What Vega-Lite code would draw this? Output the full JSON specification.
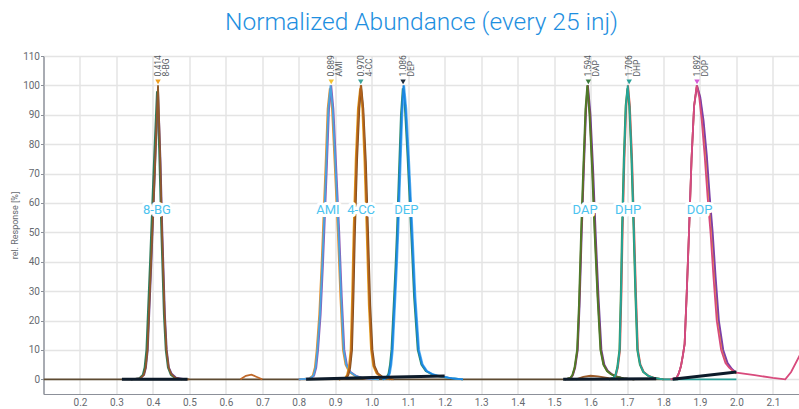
{
  "$schema": "https://vega.github.io/schema/vega-lite/v6.json",
  "autosize": {"type": "none"},
  "padding": {"left": 43.5, "top": 56, "right": 0, "bottom": 15},
  "width": 756,
  "height": 338,
  "title": {"text": "Normalized Abundance (every 25 inj)", "fontSize": 24.5, "font": "Roboto", "fontWeight": 300, "color": "#1e8fe0", "offset": 16, "anchor": "middle"},
  "config": {
    "view": {"stroke": "#8c9099", "strokeWidth": 1},
    "font": "Roboto",
    "axis": {"labelFont": "Roboto", "titleFont": "Roboto", "labelFontSize": 10, "labelColor": "#666a70", "titleColor": "#666a70", "titleFontSize": 9, "titleFontWeight": "normal", "gridColor": "#e4e4e4", "gridWidth": 1.5, "domainColor": "#8c9099", "tickColor": "#8c9099", "ticks": false}
  },
  "datasets": {
    "tr": [
      {"s": "z0", "t": 0.1, "r": 0}, {"s": "z0", "t": 1.84, "r": 0},
      {"s": "z1", "t": 0.64, "r": 0}, {"s": "z1", "t": 0.655, "r": 1.2}, {"s": "z1", "t": 0.67, "r": 1.6}, {"s": "z1", "t": 0.685, "r": 0.8}, {"s": "z1", "t": 0.7, "r": 0},

      {"s": "bg_a", "t": 0.34, "r": 0}, {"s": "bg_a", "t": 0.362, "r": 0.3}, {"s": "bg_a", "t": 0.372, "r": 1.5}, {"s": "bg_a", "t": 0.377, "r": 4}, {"s": "bg_a", "t": 0.382, "r": 10}, {"s": "bg_a", "t": 0.392, "r": 40}, {"s": "bg_a", "t": 0.402, "r": 72}, {"s": "bg_a", "t": 0.411, "r": 98}, {"s": "bg_a", "t": 0.417, "r": 78}, {"s": "bg_a", "t": 0.423, "r": 50}, {"s": "bg_a", "t": 0.43, "r": 22}, {"s": "bg_a", "t": 0.435, "r": 10}, {"s": "bg_a", "t": 0.441, "r": 4}, {"s": "bg_a", "t": 0.449, "r": 1.5}, {"s": "bg_a", "t": 0.46, "r": 0.5}, {"s": "bg_a", "t": 0.48, "r": 0},
      {"s": "bg_b", "t": 0.34, "r": 0}, {"s": "bg_b", "t": 0.366, "r": 0.3}, {"s": "bg_b", "t": 0.376, "r": 1.5}, {"s": "bg_b", "t": 0.381, "r": 4}, {"s": "bg_b", "t": 0.386, "r": 10}, {"s": "bg_b", "t": 0.396, "r": 40}, {"s": "bg_b", "t": 0.406, "r": 72}, {"s": "bg_b", "t": 0.414, "r": 99}, {"s": "bg_b", "t": 0.421, "r": 74}, {"s": "bg_b", "t": 0.426, "r": 50}, {"s": "bg_b", "t": 0.433, "r": 22}, {"s": "bg_b", "t": 0.438, "r": 10}, {"s": "bg_b", "t": 0.444, "r": 4}, {"s": "bg_b", "t": 0.452, "r": 1.8}, {"s": "bg_b", "t": 0.463, "r": 0.6}, {"s": "bg_b", "t": 0.49, "r": 0},
      {"s": "bg_c", "t": 0.34, "r": 0}, {"s": "bg_c", "t": 0.365, "r": 0.3}, {"s": "bg_c", "t": 0.375, "r": 1.5}, {"s": "bg_c", "t": 0.38, "r": 4}, {"s": "bg_c", "t": 0.385, "r": 10}, {"s": "bg_c", "t": 0.395, "r": 40}, {"s": "bg_c", "t": 0.405, "r": 70}, {"s": "bg_c", "t": 0.414, "r": 100}, {"s": "bg_c", "t": 0.42, "r": 75}, {"s": "bg_c", "t": 0.425, "r": 50}, {"s": "bg_c", "t": 0.432, "r": 22}, {"s": "bg_c", "t": 0.437, "r": 10}, {"s": "bg_c", "t": 0.443, "r": 4}, {"s": "bg_c", "t": 0.45, "r": 1.8}, {"s": "bg_c", "t": 0.46, "r": 0.6}, {"s": "bg_c", "t": 0.475, "r": 0.1}, {"s": "bg_c", "t": 0.5, "r": 0},

      {"s": "am_a", "t": 0.8, "r": 0}, {"s": "am_a", "t": 0.828, "r": 0.3}, {"s": "am_a", "t": 0.838, "r": 1.2}, {"s": "am_a", "t": 0.844, "r": 4}, {"s": "am_a", "t": 0.849, "r": 10}, {"s": "am_a", "t": 0.856, "r": 22}, {"s": "am_a", "t": 0.862, "r": 38}, {"s": "am_a", "t": 0.866, "r": 50}, {"s": "am_a", "t": 0.873, "r": 72}, {"s": "am_a", "t": 0.879, "r": 92}, {"s": "am_a", "t": 0.885, "r": 99}, {"s": "am_a", "t": 0.891, "r": 92}, {"s": "am_a", "t": 0.898, "r": 74}, {"s": "am_a", "t": 0.907, "r": 50}, {"s": "am_a", "t": 0.914, "r": 28}, {"s": "am_a", "t": 0.921, "r": 10}, {"s": "am_a", "t": 0.928, "r": 5}, {"s": "am_a", "t": 0.938, "r": 2.5}, {"s": "am_a", "t": 0.953, "r": 1.2}, {"s": "am_a", "t": 0.97, "r": 0.5}, {"s": "am_a", "t": 1.0, "r": 0},
      {"s": "am_b", "t": 0.8, "r": 0}, {"s": "am_b", "t": 0.832, "r": 0.3}, {"s": "am_b", "t": 0.842, "r": 1.2}, {"s": "am_b", "t": 0.848, "r": 4}, {"s": "am_b", "t": 0.853, "r": 10}, {"s": "am_b", "t": 0.86, "r": 22}, {"s": "am_b", "t": 0.866, "r": 38}, {"s": "am_b", "t": 0.87, "r": 50}, {"s": "am_b", "t": 0.877, "r": 72}, {"s": "am_b", "t": 0.883, "r": 92}, {"s": "am_b", "t": 0.889, "r": 100}, {"s": "am_b", "t": 0.895, "r": 92}, {"s": "am_b", "t": 0.902, "r": 74}, {"s": "am_b", "t": 0.911, "r": 50}, {"s": "am_b", "t": 0.918, "r": 28}, {"s": "am_b", "t": 0.925, "r": 10}, {"s": "am_b", "t": 0.932, "r": 5}, {"s": "am_b", "t": 0.942, "r": 2.5}, {"s": "am_b", "t": 0.957, "r": 1.2}, {"s": "am_b", "t": 0.975, "r": 0.5}, {"s": "am_b", "t": 1.0, "r": 0},
      {"s": "am_c", "t": 0.8, "r": 0}, {"s": "am_c", "t": 0.83, "r": 0.3}, {"s": "am_c", "t": 0.84, "r": 1.2}, {"s": "am_c", "t": 0.846, "r": 4}, {"s": "am_c", "t": 0.851, "r": 10}, {"s": "am_c", "t": 0.858, "r": 22}, {"s": "am_c", "t": 0.864, "r": 38}, {"s": "am_c", "t": 0.868, "r": 50}, {"s": "am_c", "t": 0.875, "r": 72}, {"s": "am_c", "t": 0.881, "r": 92}, {"s": "am_c", "t": 0.887, "r": 100}, {"s": "am_c", "t": 0.893, "r": 92}, {"s": "am_c", "t": 0.9, "r": 74}, {"s": "am_c", "t": 0.909, "r": 50}, {"s": "am_c", "t": 0.916, "r": 28}, {"s": "am_c", "t": 0.923, "r": 10}, {"s": "am_c", "t": 0.93, "r": 5}, {"s": "am_c", "t": 0.94, "r": 2.5}, {"s": "am_c", "t": 0.955, "r": 1.2}, {"s": "am_c", "t": 0.97, "r": 0.6}, {"s": "am_c", "t": 0.99, "r": 0.2}, {"s": "am_c", "t": 1.02, "r": 0},

      {"s": "cc_a", "t": 0.91, "r": 0}, {"s": "cc_a", "t": 0.926, "r": 0.3}, {"s": "cc_a", "t": 0.932, "r": 1.5}, {"s": "cc_a", "t": 0.937, "r": 4}, {"s": "cc_a", "t": 0.942, "r": 10}, {"s": "cc_a", "t": 0.946, "r": 28}, {"s": "cc_a", "t": 0.95, "r": 50}, {"s": "cc_a", "t": 0.956, "r": 75}, {"s": "cc_a", "t": 0.962, "r": 92}, {"s": "cc_a", "t": 0.968, "r": 99}, {"s": "cc_a", "t": 0.974, "r": 92}, {"s": "cc_a", "t": 0.98, "r": 74}, {"s": "cc_a", "t": 0.986, "r": 50}, {"s": "cc_a", "t": 0.992, "r": 25}, {"s": "cc_a", "t": 0.998, "r": 10}, {"s": "cc_a", "t": 1.004, "r": 4.5}, {"s": "cc_a", "t": 1.013, "r": 2}, {"s": "cc_a", "t": 1.026, "r": 0.8}, {"s": "cc_a", "t": 1.05, "r": 0},
      {"s": "cc_b", "t": 0.91, "r": 0}, {"s": "cc_b", "t": 0.93, "r": 0.3}, {"s": "cc_b", "t": 0.936, "r": 1.5}, {"s": "cc_b", "t": 0.941, "r": 4}, {"s": "cc_b", "t": 0.946, "r": 10}, {"s": "cc_b", "t": 0.95, "r": 28}, {"s": "cc_b", "t": 0.954, "r": 50}, {"s": "cc_b", "t": 0.96, "r": 75}, {"s": "cc_b", "t": 0.966, "r": 92}, {"s": "cc_b", "t": 0.971, "r": 100}, {"s": "cc_b", "t": 0.977, "r": 92}, {"s": "cc_b", "t": 0.984, "r": 74}, {"s": "cc_b", "t": 0.99, "r": 50}, {"s": "cc_b", "t": 0.996, "r": 25}, {"s": "cc_b", "t": 1.002, "r": 10}, {"s": "cc_b", "t": 1.008, "r": 4.5}, {"s": "cc_b", "t": 1.017, "r": 2}, {"s": "cc_b", "t": 1.03, "r": 0.8}, {"s": "cc_b", "t": 1.055, "r": 0},
      {"s": "cc_c", "t": 0.91, "r": 0}, {"s": "cc_c", "t": 0.928, "r": 0.3}, {"s": "cc_c", "t": 0.934, "r": 1.5}, {"s": "cc_c", "t": 0.939, "r": 4}, {"s": "cc_c", "t": 0.944, "r": 10}, {"s": "cc_c", "t": 0.948, "r": 28}, {"s": "cc_c", "t": 0.952, "r": 50}, {"s": "cc_c", "t": 0.958, "r": 75}, {"s": "cc_c", "t": 0.964, "r": 92}, {"s": "cc_c", "t": 0.97, "r": 100}, {"s": "cc_c", "t": 0.976, "r": 92}, {"s": "cc_c", "t": 0.982, "r": 74}, {"s": "cc_c", "t": 0.988, "r": 50}, {"s": "cc_c", "t": 0.994, "r": 25}, {"s": "cc_c", "t": 1.0, "r": 10}, {"s": "cc_c", "t": 1.006, "r": 4.5}, {"s": "cc_c", "t": 1.015, "r": 2}, {"s": "cc_c", "t": 1.028, "r": 0.8}, {"s": "cc_c", "t": 1.045, "r": 0.2}, {"s": "cc_c", "t": 1.06, "r": 0},

      {"s": "de_a", "t": 1.03, "r": 0}, {"s": "de_a", "t": 1.04, "r": 0.5}, {"s": "de_a", "t": 1.046, "r": 2}, {"s": "de_a", "t": 1.05, "r": 5}, {"s": "de_a", "t": 1.054, "r": 10}, {"s": "de_a", "t": 1.06, "r": 25}, {"s": "de_a", "t": 1.065, "r": 38}, {"s": "de_a", "t": 1.069, "r": 50}, {"s": "de_a", "t": 1.075, "r": 72}, {"s": "de_a", "t": 1.08, "r": 90}, {"s": "de_a", "t": 1.085, "r": 99}, {"s": "de_a", "t": 1.091, "r": 92}, {"s": "de_a", "t": 1.098, "r": 76}, {"s": "de_a", "t": 1.108, "r": 50}, {"s": "de_a", "t": 1.116, "r": 28}, {"s": "de_a", "t": 1.126, "r": 10}, {"s": "de_a", "t": 1.136, "r": 5}, {"s": "de_a", "t": 1.148, "r": 2.8}, {"s": "de_a", "t": 1.163, "r": 1.8}, {"s": "de_a", "t": 1.18, "r": 1.1}, {"s": "de_a", "t": 1.21, "r": 0.5}, {"s": "de_a", "t": 1.25, "r": 0},
      {"s": "de_b", "t": 1.03, "r": 0}, {"s": "de_b", "t": 1.044, "r": 0.5}, {"s": "de_b", "t": 1.05, "r": 2}, {"s": "de_b", "t": 1.054, "r": 5}, {"s": "de_b", "t": 1.058, "r": 10}, {"s": "de_b", "t": 1.064, "r": 25}, {"s": "de_b", "t": 1.069, "r": 38}, {"s": "de_b", "t": 1.073, "r": 50}, {"s": "de_b", "t": 1.079, "r": 72}, {"s": "de_b", "t": 1.084, "r": 90}, {"s": "de_b", "t": 1.089, "r": 100}, {"s": "de_b", "t": 1.095, "r": 92}, {"s": "de_b", "t": 1.102, "r": 76}, {"s": "de_b", "t": 1.112, "r": 50}, {"s": "de_b", "t": 1.12, "r": 28}, {"s": "de_b", "t": 1.13, "r": 10}, {"s": "de_b", "t": 1.14, "r": 5}, {"s": "de_b", "t": 1.152, "r": 2.8}, {"s": "de_b", "t": 1.167, "r": 1.8}, {"s": "de_b", "t": 1.185, "r": 1.2}, {"s": "de_b", "t": 1.21, "r": 0.6}, {"s": "de_b", "t": 1.25, "r": 0},
      {"s": "de_c", "t": 1.03, "r": 0}, {"s": "de_c", "t": 1.042, "r": 0.5}, {"s": "de_c", "t": 1.048, "r": 2}, {"s": "de_c", "t": 1.052, "r": 5}, {"s": "de_c", "t": 1.056, "r": 10}, {"s": "de_c", "t": 1.062, "r": 25}, {"s": "de_c", "t": 1.067, "r": 38}, {"s": "de_c", "t": 1.071, "r": 50}, {"s": "de_c", "t": 1.077, "r": 72}, {"s": "de_c", "t": 1.082, "r": 90}, {"s": "de_c", "t": 1.087, "r": 100}, {"s": "de_c", "t": 1.093, "r": 92}, {"s": "de_c", "t": 1.1, "r": 76}, {"s": "de_c", "t": 1.11, "r": 50}, {"s": "de_c", "t": 1.118, "r": 28}, {"s": "de_c", "t": 1.128, "r": 10}, {"s": "de_c", "t": 1.138, "r": 5}, {"s": "de_c", "t": 1.15, "r": 2.8}, {"s": "de_c", "t": 1.165, "r": 1.8}, {"s": "de_c", "t": 1.18, "r": 1.2}, {"s": "de_c", "t": 1.2, "r": 0.8}, {"s": "de_c", "t": 1.22, "r": 0.3}, {"s": "de_c", "t": 1.25, "r": 0},

      {"s": "da_h", "t": 1.56, "r": 0}, {"s": "da_h", "t": 1.58, "r": 0.8}, {"s": "da_h", "t": 1.6, "r": 1.2}, {"s": "da_h", "t": 1.62, "r": 1.0}, {"s": "da_h", "t": 1.65, "r": 0.4}, {"s": "da_h", "t": 1.68, "r": 0},
      {"s": "da_a", "t": 1.53, "r": 0}, {"s": "da_a", "t": 1.547, "r": 0.5}, {"s": "da_a", "t": 1.552, "r": 1.5}, {"s": "da_a", "t": 1.558, "r": 4}, {"s": "da_a", "t": 1.565, "r": 10}, {"s": "da_a", "t": 1.57, "r": 25}, {"s": "da_a", "t": 1.576, "r": 50}, {"s": "da_a", "t": 1.582, "r": 72}, {"s": "da_a", "t": 1.588, "r": 92}, {"s": "da_a", "t": 1.593, "r": 100}, {"s": "da_a", "t": 1.6, "r": 90}, {"s": "da_a", "t": 1.607, "r": 72}, {"s": "da_a", "t": 1.614, "r": 50}, {"s": "da_a", "t": 1.622, "r": 28}, {"s": "da_a", "t": 1.63, "r": 10}, {"s": "da_a", "t": 1.638, "r": 5}, {"s": "da_a", "t": 1.648, "r": 2.8}, {"s": "da_a", "t": 1.658, "r": 1.8}, {"s": "da_a", "t": 1.671, "r": 1}, {"s": "da_a", "t": 1.69, "r": 0.3}, {"s": "da_a", "t": 1.72, "r": 0},
      {"s": "da_b", "t": 1.53, "r": 0}, {"s": "da_b", "t": 1.546, "r": 0.5}, {"s": "da_b", "t": 1.551, "r": 1.5}, {"s": "da_b", "t": 1.557, "r": 4}, {"s": "da_b", "t": 1.564, "r": 10}, {"s": "da_b", "t": 1.569, "r": 25}, {"s": "da_b", "t": 1.575, "r": 50}, {"s": "da_b", "t": 1.581, "r": 72}, {"s": "da_b", "t": 1.587, "r": 92}, {"s": "da_b", "t": 1.592, "r": 100}, {"s": "da_b", "t": 1.598, "r": 90}, {"s": "da_b", "t": 1.605, "r": 72}, {"s": "da_b", "t": 1.612, "r": 50}, {"s": "da_b", "t": 1.62, "r": 28}, {"s": "da_b", "t": 1.628, "r": 10}, {"s": "da_b", "t": 1.636, "r": 5}, {"s": "da_b", "t": 1.646, "r": 2.8}, {"s": "da_b", "t": 1.656, "r": 1.8}, {"s": "da_b", "t": 1.669, "r": 1}, {"s": "da_b", "t": 1.69, "r": 0.3}, {"s": "da_b", "t": 1.72, "r": 0},
      {"s": "da_c", "t": 1.53, "r": 0}, {"s": "da_c", "t": 1.545, "r": 0.5}, {"s": "da_c", "t": 1.55, "r": 1.5}, {"s": "da_c", "t": 1.556, "r": 4}, {"s": "da_c", "t": 1.563, "r": 10}, {"s": "da_c", "t": 1.568, "r": 25}, {"s": "da_c", "t": 1.574, "r": 50}, {"s": "da_c", "t": 1.58, "r": 72}, {"s": "da_c", "t": 1.586, "r": 92}, {"s": "da_c", "t": 1.591, "r": 100}, {"s": "da_c", "t": 1.597, "r": 90}, {"s": "da_c", "t": 1.604, "r": 72}, {"s": "da_c", "t": 1.611, "r": 50}, {"s": "da_c", "t": 1.619, "r": 28}, {"s": "da_c", "t": 1.627, "r": 10}, {"s": "da_c", "t": 1.635, "r": 5}, {"s": "da_c", "t": 1.645, "r": 2.8}, {"s": "da_c", "t": 1.655, "r": 1.8}, {"s": "da_c", "t": 1.668, "r": 1}, {"s": "da_c", "t": 1.69, "r": 0.3}, {"s": "da_c", "t": 1.72, "r": 0},

      {"s": "dh_a", "t": 1.65, "r": 0}, {"s": "dh_a", "t": 1.665, "r": 0.5}, {"s": "dh_a", "t": 1.67, "r": 1.5}, {"s": "dh_a", "t": 1.675, "r": 4}, {"s": "dh_a", "t": 1.681, "r": 10}, {"s": "dh_a", "t": 1.685, "r": 30}, {"s": "dh_a", "t": 1.688, "r": 50}, {"s": "dh_a", "t": 1.693, "r": 75}, {"s": "dh_a", "t": 1.698, "r": 93}, {"s": "dh_a", "t": 1.703, "r": 100}, {"s": "dh_a", "t": 1.708, "r": 93}, {"s": "dh_a", "t": 1.714, "r": 75}, {"s": "dh_a", "t": 1.72, "r": 50}, {"s": "dh_a", "t": 1.725, "r": 28}, {"s": "dh_a", "t": 1.73, "r": 10}, {"s": "dh_a", "t": 1.737, "r": 5}, {"s": "dh_a", "t": 1.746, "r": 2.5}, {"s": "dh_a", "t": 1.759, "r": 1.2}, {"s": "dh_a", "t": 1.775, "r": 0.5}, {"s": "dh_a", "t": 1.8, "r": 0},
      {"s": "dh_b", "t": 1.65, "r": 0}, {"s": "dh_b", "t": 1.663, "r": 0.5}, {"s": "dh_b", "t": 1.668, "r": 1.5}, {"s": "dh_b", "t": 1.673, "r": 4}, {"s": "dh_b", "t": 1.679, "r": 10}, {"s": "dh_b", "t": 1.683, "r": 30}, {"s": "dh_b", "t": 1.686, "r": 50}, {"s": "dh_b", "t": 1.691, "r": 75}, {"s": "dh_b", "t": 1.696, "r": 93}, {"s": "dh_b", "t": 1.701, "r": 99}, {"s": "dh_b", "t": 1.706, "r": 93}, {"s": "dh_b", "t": 1.712, "r": 75}, {"s": "dh_b", "t": 1.718, "r": 50}, {"s": "dh_b", "t": 1.723, "r": 28}, {"s": "dh_b", "t": 1.728, "r": 10}, {"s": "dh_b", "t": 1.735, "r": 5}, {"s": "dh_b", "t": 1.744, "r": 2.5}, {"s": "dh_b", "t": 1.757, "r": 1.2}, {"s": "dh_b", "t": 1.772, "r": 0.5}, {"s": "dh_b", "t": 1.8, "r": 0},
      {"s": "dh_c", "t": 1.65, "r": 0}, {"s": "dh_c", "t": 1.664, "r": 0.5}, {"s": "dh_c", "t": 1.669, "r": 1.5}, {"s": "dh_c", "t": 1.674, "r": 4}, {"s": "dh_c", "t": 1.68, "r": 10}, {"s": "dh_c", "t": 1.684, "r": 30}, {"s": "dh_c", "t": 1.687, "r": 50}, {"s": "dh_c", "t": 1.692, "r": 75}, {"s": "dh_c", "t": 1.697, "r": 93}, {"s": "dh_c", "t": 1.702, "r": 100}, {"s": "dh_c", "t": 1.707, "r": 93}, {"s": "dh_c", "t": 1.713, "r": 75}, {"s": "dh_c", "t": 1.719, "r": 50}, {"s": "dh_c", "t": 1.724, "r": 28}, {"s": "dh_c", "t": 1.729, "r": 10}, {"s": "dh_c", "t": 1.736, "r": 5}, {"s": "dh_c", "t": 1.745, "r": 2.5}, {"s": "dh_c", "t": 1.758, "r": 1.2}, {"s": "dh_c", "t": 1.773, "r": 0.5}, {"s": "dh_c", "t": 1.8, "r": 0},

      {"s": "do_t", "t": 1.8, "r": 0}, {"s": "do_t", "t": 2.0, "r": 0},
      {"s": "do_a", "t": 1.82, "r": 0}, {"s": "do_a", "t": 1.836, "r": 0.5}, {"s": "do_a", "t": 1.842, "r": 2}, {"s": "do_a", "t": 1.848, "r": 4.5}, {"s": "do_a", "t": 1.853, "r": 8}, {"s": "do_a", "t": 1.858, "r": 12}, {"s": "do_a", "t": 1.864, "r": 30}, {"s": "do_a", "t": 1.87, "r": 50}, {"s": "do_a", "t": 1.877, "r": 75}, {"s": "do_a", "t": 1.884, "r": 93}, {"s": "do_a", "t": 1.892, "r": 100}, {"s": "do_a", "t": 1.9, "r": 96}, {"s": "do_a", "t": 1.908, "r": 88}, {"s": "do_a", "t": 1.917, "r": 76}, {"s": "do_a", "t": 1.925, "r": 62}, {"s": "do_a", "t": 1.933, "r": 50}, {"s": "do_a", "t": 1.941, "r": 35}, {"s": "do_a", "t": 1.95, "r": 20}, {"s": "do_a", "t": 1.962, "r": 10}, {"s": "do_a", "t": 1.974, "r": 5.5}, {"s": "do_a", "t": 1.985, "r": 3.5}, {"s": "do_a", "t": 2.0, "r": 2},
      {"s": "do_b", "t": 1.82, "r": 0}, {"s": "do_b", "t": 1.836, "r": 0.5}, {"s": "do_b", "t": 1.842, "r": 2}, {"s": "do_b", "t": 1.848, "r": 4.5}, {"s": "do_b", "t": 1.853, "r": 8}, {"s": "do_b", "t": 1.858, "r": 12}, {"s": "do_b", "t": 1.864, "r": 30}, {"s": "do_b", "t": 1.87, "r": 50}, {"s": "do_b", "t": 1.877, "r": 75}, {"s": "do_b", "t": 1.884, "r": 93}, {"s": "do_b", "t": 1.892, "r": 100}, {"s": "do_b", "t": 1.901, "r": 96}, {"s": "do_b", "t": 1.91, "r": 88}, {"s": "do_b", "t": 1.919, "r": 76}, {"s": "do_b", "t": 1.927, "r": 62}, {"s": "do_b", "t": 1.935, "r": 50}, {"s": "do_b", "t": 1.943, "r": 35}, {"s": "do_b", "t": 1.952, "r": 20}, {"s": "do_b", "t": 1.964, "r": 10}, {"s": "do_b", "t": 1.976, "r": 5.5}, {"s": "do_b", "t": 1.988, "r": 3.5}, {"s": "do_b", "t": 2.0, "r": 2.2},
      {"s": "do_c", "t": 1.82, "r": 0}, {"s": "do_c", "t": 1.836, "r": 0.5}, {"s": "do_c", "t": 1.842, "r": 2}, {"s": "do_c", "t": 1.848, "r": 4.5}, {"s": "do_c", "t": 1.853, "r": 8}, {"s": "do_c", "t": 1.858, "r": 12}, {"s": "do_c", "t": 1.864, "r": 30}, {"s": "do_c", "t": 1.87, "r": 50}, {"s": "do_c", "t": 1.877, "r": 75}, {"s": "do_c", "t": 1.884, "r": 93}, {"s": "do_c", "t": 1.891, "r": 100}, {"s": "do_c", "t": 1.898, "r": 96}, {"s": "do_c", "t": 1.905, "r": 88}, {"s": "do_c", "t": 1.913, "r": 76}, {"s": "do_c", "t": 1.921, "r": 62}, {"s": "do_c", "t": 1.929, "r": 50}, {"s": "do_c", "t": 1.937, "r": 35}, {"s": "do_c", "t": 1.946, "r": 20}, {"s": "do_c", "t": 1.958, "r": 10}, {"s": "do_c", "t": 1.97, "r": 5.5}, {"s": "do_c", "t": 1.98, "r": 4}, {"s": "do_c", "t": 1.99, "r": 3}, {"s": "do_c", "t": 2.0, "r": 2.3}, {"s": "do_c", "t": 2.05, "r": 1.4}, {"s": "do_c", "t": 2.1, "r": 0.5}, {"s": "do_c", "t": 2.134, "r": 0}, {"s": "do_c", "t": 2.15, "r": 2.5}, {"s": "do_c", "t": 2.175, "r": 8.5}
    ],
    "bl": [
      {"g": "1", "t": 0.315, "r": 0}, {"g": "1", "t": 0.495, "r": 0},
      {"g": "2", "t": 0.82, "r": 0}, {"g": "2", "t": 1.0, "r": 0.6}, {"g": "2", "t": 1.2, "r": 1.1},
      {"g": "3", "t": 1.525, "r": 0}, {"g": "3", "t": 1.78, "r": 0.2},
      {"g": "4", "t": 1.825, "r": 0}, {"g": "4", "t": 2.0, "r": 2.5}
    ],
    "pk": [
      {"n": "8-BG", "rt": 0.414, "lx": 0.411, "lab": "0.414\n8-BG"},
      {"n": "AMI", "rt": 0.889, "lx": 0.880, "lab": "0.889\nAMI"},
      {"n": "4-CC", "rt": 0.970, "lx": 0.971, "lab": "0.970\n4-CC"},
      {"n": "DEP", "rt": 1.086, "lx": 1.095, "lab": "1.086\nDEP"},
      {"n": "DAP", "rt": 1.594, "lx": 1.585, "lab": "1.594\nDAP"},
      {"n": "DHP", "rt": 1.706, "lx": 1.703, "lab": "1.706\nDHP"},
      {"n": "DOP", "rt": 1.892, "lx": 1.899, "lab": "1.892\nDOP"}
    ]
  },
  "encoding": {
    "x": {"type": "quantitative", "scale": {"domain": [0.1, 2.173], "nice": false, "zero": false},
      "axis": {"values": [0.2, 0.3, 0.4, 0.5, 0.6, 0.7, 0.8, 0.9, 1.0, 1.1, 1.2, 1.3, 1.4, 1.5, 1.6, 1.7, 1.8, 1.9, 2.0, 2.1], "format": ".1f", "labelPadding": 3, "title": "Retention time [min]", "titlePadding": 1}},
    "y": {"type": "quantitative", "scale": {"domain": [-5, 110], "nice": false, "zero": false},
      "axis": {"values": [0, 10, 20, 30, 40, 50, 60, 70, 80, 90, 100, 110], "ticks": true, "tickSize": 3, "labelPadding": 1, "title": "rel. Response [%]", "titlePadding": 3}}
  },
  "layer": [
    {
      "data": {"name": "tr"},
      "mark": {"type": "line", "strokeWidth": 1.8, "clip": true, "interpolate": "linear"},
      "encoding": {
        "x": {"field": "t", "type": "quantitative"},
        "y": {"field": "r", "type": "quantitative"},
        "color": {"field": "s", "type": "nominal", "legend": null,
          "scale": {"domain": ["z0", "z1", "bg_a", "bg_b", "bg_c", "am_a", "am_b", "am_c", "cc_a", "cc_b", "cc_c", "de_a", "de_b", "de_c", "da_h", "da_a", "da_b", "da_c", "dh_a", "dh_b", "dh_c", "do_t", "do_a", "do_b", "do_c"],
            "range": ["#5e4b32", "#c0692a", "#2e7d5b", "#6b3e8e", "#8e5a2a", "#e8912a", "#8e5bb5", "#4aa3df", "#e6a020", "#7a4a1e", "#b0601c", "#2a8a6a", "#5ab0f0", "#1a86e0", "#9a5a28", "#6a3d9a", "#8d5a26", "#4d7a2a", "#e04a3a", "#4a8a3a", "#25a59a", "#2aa198", "#f0a020", "#7d3fa8", "#d84a7c"]}}
      }
    },
    {
      "data": {"name": "bl"},
      "mark": {"type": "line", "strokeWidth": 3, "color": "#0d1b2a", "clip": true},
      "encoding": {
        "x": {"field": "t", "type": "quantitative"},
        "y": {"field": "r", "type": "quantitative"},
        "detail": {"field": "g"}
      }
    },
    {
      "data": {"name": "pk"},
      "mark": {"type": "point", "shape": "triangle-down", "filled": true, "size": 30, "opacity": 1},
      "encoding": {
        "x": {"field": "rt", "type": "quantitative"},
        "y": {"datum": 101.2},
        "color": {"field": "n", "type": "nominal", "legend": null,
          "scale": {"domain": ["8-BG", "AMI", "4-CC", "DEP", "DAP", "DHP", "DOP"], "range": ["#f0a020", "#f2c230", "#3aa39a", "#1f2d3d", "#3c7a3c", "#2aa198", "#d65ad6"]}}
      }
    },
    {
      "data": {"name": "pk"},
      "mark": {"type": "text", "angle": 270, "align": "left", "baseline": "middle", "fontSize": 8.5, "lineHeight": 8, "lineBreak": "\n", "color": "#555a60", "font": "Roboto"},
      "encoding": {
        "x": {"field": "rt", "type": "quantitative"},
        "y": {"datum": 103},
        "text": {"field": "lab"}
      }
    },
    {
      "data": {"name": "pk"},
      "mark": {"type": "text", "fontSize": 13, "font": "Roboto", "color": "white", "stroke": "white", "strokeWidth": 6, "strokeJoin": "round"},
      "encoding": {
        "x": {"field": "lx", "type": "quantitative"},
        "y": {"datum": 57.7},
        "text": {"field": "n"}
      }
    },
    {
      "data": {"name": "pk"},
      "mark": {"type": "text", "fontSize": 13, "font": "Roboto", "color": "#4cc3ef"},
      "encoding": {
        "x": {"field": "lx", "type": "quantitative"},
        "y": {"datum": 57.7},
        "text": {"field": "n"}
      }
    }
  ],
  "resolve": {"scale": {"color": "independent"}}
}
